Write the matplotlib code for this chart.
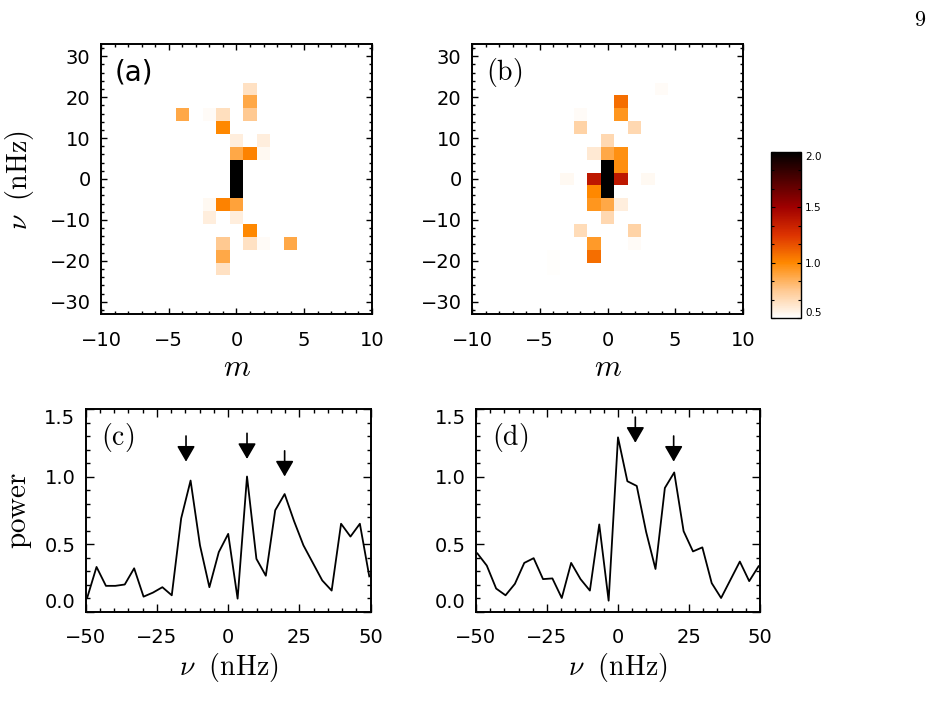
import numpy as np
import matplotlib
matplotlib.use("Agg")
import matplotlib.pyplot as plt
from matplotlib.colors import LinearSegmentedColormap
from matplotlib.ticker import MultipleLocator

plt.rcParams['mathtext.fontset'] = 'cm'
plt.rcParams['font.family'] = ['DejaVu Sans']

# ---------------- data ----------------
# 2-D power maps: azimuthal order m, frequency index k (nu = k * DNU_MAP), power
DNU_MAP = 33.0 / 10.5
a_m = [1, 1, 1, -4, -2, -1, -1, 0, 2, 0, 1, 2, 0, 0, 0, -2, -1, 0, -2, 0, 1, -1, 1, 2, 4, -1, -1]
a_k = [7, 6, 5, 5, 5, 5, 4, 3, 3, 2, 2, 2, 1, 0, -1, -2, -2, -2, -3, -3, -4, -5, -5, -5, -5, -6, -7]
a_p = [0.64, 0.88, 0.75, 0.88, 0.52, 0.65, 1.0, 0.58, 0.58, 0.88, 1.02, 0.53, 2.2, 2.2, 2.2,
       0.53, 1.02, 0.9, 0.58, 0.58, 1.0, 0.75, 0.64, 0.52, 0.88, 0.88, 0.64]

b_m = [4, 4, 1, 1, -2, -2, 2, 0, -1, 0, 1, 0, 1, -3, -1, 0, 1, 3, -1, 0, -1, 0, 1, 0, -2, 2, -1, 2, -1, -4, -4]
b_k = [7, 6, 6, 5, 5, 4, 4, 3, 2, 2, 2, 1, 1, 0, 0, 0, 0, 0, -1, -1, -2, -2, -2, -3, -4, -4, -5, -5, -6, -6, -7]
b_p = [0.52, 0.505, 1.08, 0.95, 0.52, 0.70, 0.68, 0.68, 0.60, 0.88, 0.97, 2.2, 0.98, 0.53, 1.38,
       2.2, 1.38, 0.53, 1.0, 2.2, 0.95, 0.88, 0.58, 0.68, 0.66, 0.70, 0.93, 0.52, 1.08, 0.51, 0.51]

# 1-D spectra: nu = k * DNU_LINE
DNU_LINE = 3.3
line_k = list(range(-15, 16))
c_power = [0.10, 0.33, 0.19, 0.19, 0.20, 0.32, 0.11, 0.14, 0.18, 0.12, 0.69, 0.97, 0.49, 0.18, 0.44,
           0.575, 0.095, 1.0, 0.39, 0.265, 0.75, 0.87, 0.67, 0.49, 0.36, 0.23, 0.155, 0.65, 0.555, 0.65, 0.26]
d_power = [0.43, 0.34, 0.17, 0.12, 0.205, 0.36, 0.395, 0.24, 0.245, 0.10, 0.36, 0.24, 0.155, 0.645, 0.08,
           1.29, 0.965, 0.93, 0.59, 0.315, 0.915, 1.03, 0.595, 0.445, 0.475, 0.21, 0.10, 0.235, 0.37, 0.225, 0.335]

# arrow markers (frequency, tip height)
c_arrow_nu = [-14.8, 6.6, 19.8]
c_arrow_tip = [1.11, 1.13, 1.0]
d_arrow_nu = [6.1, 19.6]
d_arrow_tip = [1.25, 1.11]
ARROW_LEN = 0.19

# ---------------- figure ----------------
W, H = 932, 704
fig = plt.figure(figsize=(W / 100, H / 100), dpi=100)


def box(x0, y0, x1, y1):
    return [x0 / W, 1 - y1 / H, (x1 - x0) / W, (y1 - y0) / H]


def fx(x):
    return x / W


def fy(y):
    return 1 - y / H


cmap = LinearSegmentedColormap.from_list(
    'redtemp_r',
    [(0.0, '#ffffff'), (0.1667, '#ffc890'), (0.3333, '#ff8800'), (0.5, '#dd3300'),
     (0.6667, '#a00000'), (0.8333, '#500000'), (1.0, '#000000')])
cmap.set_under('white')
cmap.set_over('black')

SPINE_LW = 1.4
TICK_FS = 14
LABEL_FS = 20


def style(ax, xmaj, xmin, ymaj, ymin, maj_len, min_len, pad_x, pad_y):
    ax.xaxis.set_major_locator(MultipleLocator(xmaj))
    ax.xaxis.set_minor_locator(MultipleLocator(xmin))
    ax.yaxis.set_major_locator(MultipleLocator(ymaj))
    ax.yaxis.set_minor_locator(MultipleLocator(ymin))
    ax.tick_params(which='both', direction='in', top=True, right=True, width=1.0,
                   labelsize=TICK_FS)
    ax.tick_params(which='major', length=maj_len)
    ax.tick_params(which='minor', length=min_len)
    ax.tick_params(axis='x', pad=pad_x)
    ax.tick_params(axis='y', pad=pad_y)
    for s in ax.spines.values():
        s.set_linewidth(SPINE_LW)


def power_map(ax, ms, ks, ps, label):
    grid = np.zeros((21, 21))
    for m, k, p in zip(ms, ks, ps):
        grid[k + 10, m + 10] = p
    m_edges = np.arange(-10.5, 11.0, 1.0)
    nu_edges = (np.arange(-10.5, 11.0, 1.0)) * DNU_MAP
    mesh = ax.pcolormesh(m_edges, nu_edges, grid, cmap=cmap, vmin=0.5, vmax=2.0,
                         shading='flat')
    ax.set_xlim(-10, 10)
    ax.set_ylim(-33, 33)
    style(ax, 5, 1, 10, 2, 4.5, 2.2, 12, 7.5)
    ax.text(0.05, 0.895, label, transform=ax.transAxes, fontsize=LABEL_FS,
            va='center', ha='left')
    return mesh


ax_a = fig.add_axes(box(101, 44, 372, 314))
mesh = power_map(ax_a, a_m, a_k, a_p, '(a)')
ax_b = fig.add_axes(box(472, 44, 743, 314))
power_map(ax_b, b_m, b_k, b_p, r'$\mathrm{(b)}$')

fig.text(fx(20), fy(180), r'$\nu\ \ \mathrm{(nHz)}$', rotation=90, fontsize=LABEL_FS,
         ha='center', va='center')
fig.text(fx(236.5), fy(368), r'$m$', fontsize=LABEL_FS + 2, ha='center', va='center')
fig.text(fx(607.5), fy(368), r'$m$', fontsize=LABEL_FS + 2, ha='center', va='center')

# colorbar
cax = fig.add_axes(box(771, 152, 801, 318))
cb = fig.colorbar(mesh, cax=cax, ticks=[0.5, 1.0, 1.5, 2.0])
cb.outline.set_linewidth(1.0)
cax.set_yticklabels(['0.5', '1.0', '1.5', '2.0'], fontsize=7.5)
cax.yaxis.set_minor_locator(MultipleLocator(0.5 / 3))
cax.tick_params(which='both', direction='in', left=True, right=True, width=0.8, pad=3)
cax.tick_params(which='major', length=3)
cax.tick_params(which='minor', length=2)
cax.get_yticklabels()[0].set_va('bottom')
cax.get_yticklabels()[-1].set_va('top')


def spectrum(ax, power, arrows_nu, arrows_tip, label, xlabel_x):
    nu = np.array(line_k) * DNU_LINE
    ax.plot(nu, power, color='black', lw=1.3)
    for x, t in zip(arrows_nu, arrows_tip):
        ax.annotate('', xy=(x, t), xytext=(x, t + ARROW_LEN),
                    arrowprops=dict(arrowstyle='-|>,head_length=0.95,head_width=0.55',
                                    mutation_scale=10, color='black', lw=1.2,
                                    shrinkA=0, shrinkB=0))
    ax.set_xlim(-50, 50)
    ax.set_ylim(0, 1.5)
    style(ax, 25, 5, 0.5, 0.1, 6, 3, 12, 7.5)
    ax.set_yticks([0.0, 0.5, 1.0, 1.5])
    ax.set_yticklabels(['0.0', '0.5', '1.0', '1.5'])
    labs = ax.get_yticklabels()
    labs[0].set_va('bottom')
    labs[-1].set_va('top')
    ax.text(0.055, 0.86, label, transform=ax.transAxes, fontsize=LABEL_FS,
            va='center', ha='left')
    fig.text(fx(xlabel_x), fy(667), r'$\nu\ \ \mathrm{(nHz)}$', fontsize=LABEL_FS,
             ha='center', va='center')


ax_c = fig.add_axes(box(85.7, 409, 370.7, 611.5))
spectrum(ax_c, c_power, c_arrow_nu, c_arrow_tip, r'$\mathrm{(c)}$', 228.5)
ax_d = fig.add_axes(box(476, 409, 760, 611.5))
spectrum(ax_d, d_power, d_arrow_nu, d_arrow_tip, r'$\mathrm{(d)}$', 618)

fig.text(fx(20), fy(510), r'$\mathrm{power}$', rotation=90, fontsize=LABEL_FS + 1,
         ha='center', va='center')

fig.text(fx(920), fy(20), r'$\mathrm{9}$', fontsize=16, ha='center', va='center')

fig.savefig('out.png', dpi=100)
